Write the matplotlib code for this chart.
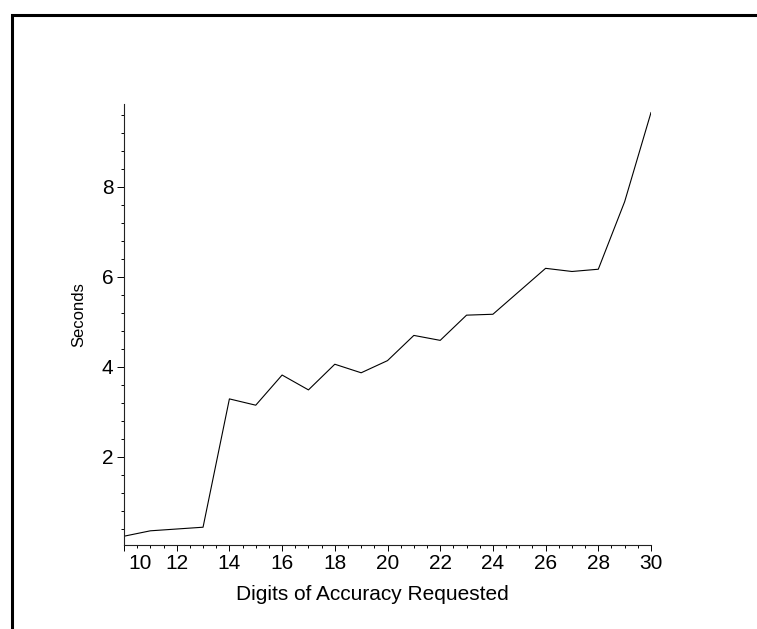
import matplotlib
matplotlib.use("Agg")
import matplotlib.pyplot as plt
import matplotlib.patches as patches
import matplotlib.transforms as mtransforms
from matplotlib.ticker import MultipleLocator

plt.rcParams["font.family"] = ["Liberation Sans", "DejaVu Sans"]

digits = [10, 11, 12, 13, 14, 15, 16, 17, 18, 19, 20,
          21, 22, 23, 24, 25, 26, 27, 28, 29, 30]
seconds = [0.24, 0.36, 0.40, 0.44, 3.29, 3.15, 3.82, 3.49, 4.06, 3.87, 4.14,
           4.70, 4.59, 5.15, 5.17, 5.68, 6.19, 6.12, 6.17, 7.67, 9.65]

W, H = 757, 629
fig = plt.figure(figsize=(W / 100, H / 100), dpi=100)
ax = fig.add_axes([124 / W, 84.5 / H, 527 / W, 440.5 / H])

ax.plot(digits, seconds, color="black", lw=0.8)

ax.set_xlim(10, 30)
ax.set_ylim(0.056, 9.84)

for side in ("top", "right"):
    ax.spines[side].set_visible(False)
for side in ("left", "bottom"):
    ax.spines[side].set_linewidth(0.8)
    ax.spines[side].set_color("#222222")

ax.xaxis.set_major_locator(MultipleLocator(2))
ax.xaxis.set_minor_locator(MultipleLocator(0.5))
ax.yaxis.set_major_locator(MultipleLocator(2))
ax.yaxis.set_minor_locator(MultipleLocator(0.4))

ax.tick_params(axis="x", which="major", length=4, width=0.7, pad=2.5, labelsize=15)
ax.tick_params(axis="x", which="minor", length=2.2, width=0.7)
ax.tick_params(axis="y", which="major", length=5, width=0.7, pad=2.5, labelsize=15)
ax.tick_params(axis="y", which="minor", length=2.2, width=0.7)

fig.canvas.draw()
# nudge the first x label away from the y axis
shift = mtransforms.ScaledTranslation(16 / 100, 0, fig.dpi_scale_trans)
for lbl in ax.get_xticklabels():
    if lbl.get_text() == "10":
        lbl.set_transform(lbl.get_transform() + shift)

# axis titles, centred on the whole plot block rather than the axes box
ax.set_xlabel("Digits of Accuracy Requested", fontsize=15)
ax.xaxis.set_label_coords(372 / W, 1 - 599.5 / H, transform=fig.transFigure)
ax.xaxis.label.set_va("baseline")

ax.set_ylabel("Seconds", fontsize=12)
ax.yaxis.set_label_coords(83 / W, 1 - 315 / H, transform=fig.transFigure)
ax.yaxis.label.set_rotation_mode("anchor")
ax.yaxis.label.set_va("baseline")
ax.yaxis.label.set_ha("center")

# outer frame
frame = patches.Rectangle((11.5 / W, -0.1), 1.2, 1.1 - 14.5 / H,
                          transform=fig.transFigure, fill=False,
                          edgecolor="black", lw=2.2, clip_on=False)
fig.patches.append(frame)

fig.savefig("out.png", dpi=100)
